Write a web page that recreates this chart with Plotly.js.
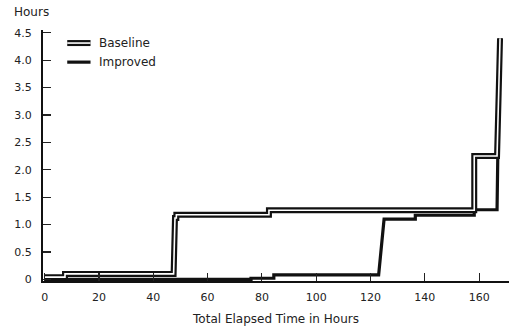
<!DOCTYPE html>
<html>
<head>
<meta charset="utf-8">
<script src="https://cdn.plot.ly/plotly-3.0.1.min.js"></script>
<style>html,body{margin:0;padding:0;background:#fff;}#chart{width:509px;height:331px;}</style>
</head>
<body>
<div id="chart"></div>
<script>
// Data
var baselineX = [0, 7.5, 7.5, 47.5, 48.0, 48.5, 48.5, 82.6, 82.6, 158.2, 158.2, 166.6, 167.2, 167.7];
var baselineY = [0.04, 0.04, 0.10, 0.10, 1.12, 1.12, 1.18, 1.18, 1.26, 1.26, 2.25, 2.25, 3.40, 4.40];
var improvedX = [0, 76, 76, 84.4, 84.4, 123, 125, 136.5, 136.5, 158.2, 158.2, 166.6, 167.2, 167.7];
var improvedY = [0, 0, 0.02, 0.02, 0.08, 0.08, 1.10, 1.10, 1.17, 1.17, 1.27, 1.27, 3.40, 4.40];
var xTicks = [0, 20, 40, 60, 80, 100, 120, 140, 160];
var yTicks = [0, 0.5, 1.0, 1.5, 2.0, 2.5, 3.0, 3.5, 4.0, 4.5];
var yTickText = ["0", "0.5", "1.0", "1.5", "2.0", "2.5", "3.0", "3.5", "4.0", "4.5"];
var seriesNames = ["Baseline", "Improved"];

var font = "DejaVu Sans, Liberation Sans, sans-serif";
var txtColor = "#222";
var traces = [
  {x: improvedX, y: improvedY, mode: "lines", line: {color: "#111", width: 3.2}, showlegend: false, hoverinfo: "skip"},
  {x: baselineX, y: baselineY, mode: "lines", line: {color: "#111", width: 6}, showlegend: false, hoverinfo: "skip"},
  {x: baselineX, y: baselineY, mode: "lines", line: {color: "#fff", width: 1.6}, showlegend: false, hoverinfo: "skip"}
];

var layout = {
  width: 509, height: 331,
  margin: {l: 43, r: 0, t: 30, b: 50},
  paper_bgcolor: "#fff", plot_bgcolor: "#fff",
  font: {family: font, size: 11, color: txtColor},
  showlegend: false,
  xaxis: {
    range: [-0.6, 171], tickvals: xTicks, ticktext: xTicks.map(String),
    ticks: "inside", ticklen: 8, tickwidth: 1.2, tickcolor: "#222",
    showline: true, linecolor: "#111", linewidth: 2, showgrid: false, zeroline: false,
    ticklabelstandoff: 5, automargin: false,
    tickfont: {size: 11, family: font, color: txtColor},
    title: {text: "Total Elapsed Time in Hours", font: {size: 12, family: font, color: txtColor}, standoff: 11}
  },
  yaxis: {
    range: [-0.03, 4.55], tickvals: yTicks, ticktext: yTickText,
    ticks: "inside", ticklen: 8, tickwidth: 1.2, tickcolor: "#222",
    showline: true, linecolor: "#111", linewidth: 2, showgrid: false, zeroline: false,
    ticklabelstandoff: 7, automargin: false,
    tickfont: {size: 11, family: font, color: txtColor}
  },
  shapes: [
    {type: "line", xref: "paper", yref: "paper", x0: 0.052, x1: 0.102, y0: 0.948, y1: 0.948, line: {color: "#111", width: 6}},
    {type: "line", xref: "paper", yref: "paper", x0: 0.052, x1: 0.102, y0: 0.948, y1: 0.948, line: {color: "#fff", width: 1.6}},
    {type: "line", xref: "paper", yref: "paper", x0: 0.052, x1: 0.102, y0: 0.872, y1: 0.872, line: {color: "#111", width: 3.2}}
  ],
  annotations: [
    {text: seriesNames[0], xref: "paper", yref: "paper", x: 0.115, y: 0.948, xanchor: "left", yanchor: "middle", showarrow: false, font: {size: 12, family: font, color: txtColor}},
    {text: seriesNames[1], xref: "paper", yref: "paper", x: 0.115, y: 0.872, xanchor: "left", yanchor: "middle", showarrow: false, font: {size: 12, family: font, color: txtColor}},
    {text: "Hours", xref: "paper", yref: "paper", x: -0.067, y: 1.07, xanchor: "left", yanchor: "middle", showarrow: false, font: {size: 12, family: font, color: txtColor}}
  ]
};

Plotly.newPlot("chart", traces, layout, {staticPlot: true, displayModeBar: false});
</script>
</body>
</html>
